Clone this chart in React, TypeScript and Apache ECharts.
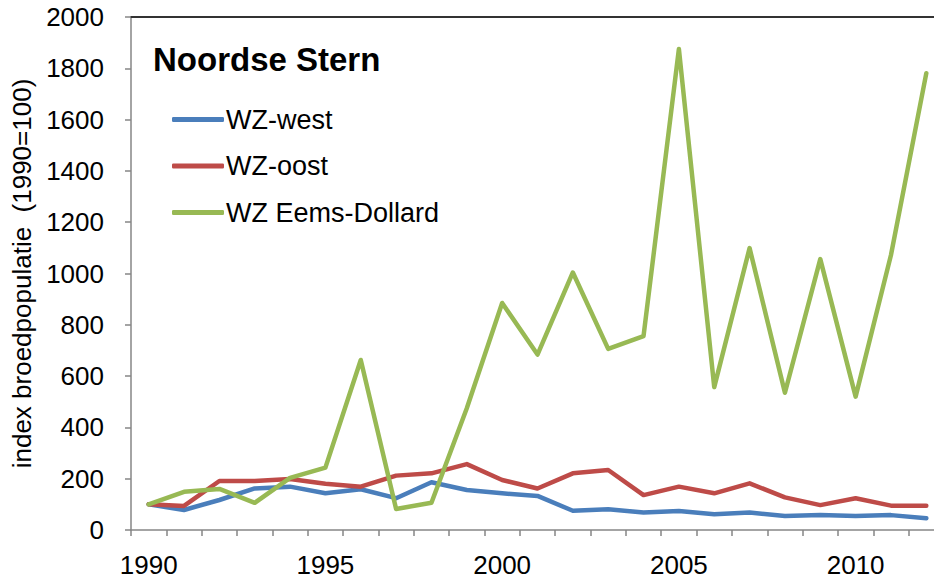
import React, { useEffect, useRef } from "react";
import * as echarts from "echarts";

const years: string[] = [
  "1990", "1991", "1992", "1993", "1994", "1995", "1996", "1997", "1998", "1999", "2000", "2001",
  "2002", "2003", "2004", "2005", "2006", "2007", "2008", "2009", "2010", "2011", "2012",
];

const wzWest: number[] = [100, 78, 117, 162, 169, 143, 159, 124, 186, 156, 143, 133, 75, 81, 68, 74, 61, 68, 55, 58, 55, 58, 46];
const wzOost: number[] = [100, 94, 191, 191, 199, 180, 169, 212, 221, 257, 195, 162, 221, 234, 136, 169, 143, 182, 127, 97, 124, 95, 95];
const wzEems: number[] = [100, 149, 160, 106, 203, 243, 663, 82, 106, 475, 885, 684, 1004, 706, 756, 1875, 557, 1099, 535, 1056, 520, 1072, 1781];

const seriesNames: string[] = ["WZ-west", "WZ-oost", "WZ Eems-Dollard"];
const colors: string[] = ["#4A7EBB", "#BE4B48", "#98B954"];

const chartTitle = "Noordse Stern";
const yAxisName = "index broedpopulatie  (1990=100)";

const FONT = "'Liberation Sans', Arial, sans-serif";

export default function App() {
  const ref = useRef<HTMLDivElement>(null);

  useEffect(() => {
    if (!ref.current) return;
    const chart = echarts.init(ref.current, null, { renderer: "svg" });
    const dataSets = [wzWest, wzOost, wzEems];
    chart.setOption({
      animation: false,
      backgroundColor: "#ffffff",
      textStyle: { fontFamily: FONT },
      title: {
        text: chartTitle,
        left: 153,
        top: 43,
        padding: 0,
        textStyle: { fontFamily: FONT, fontSize: 33, fontWeight: "bold", color: "#000000" },
      },
      legend: {
        orient: "vertical",
        left: 172,
        top: 106,
        padding: 0,
        itemGap: 19.5,
        itemWidth: 52,
        itemHeight: 5,
        icon: "roundRect",
        data: seriesNames,
        textStyle: { fontFamily: FONT, fontSize: 27, color: "#000000", padding: [0, 0, 0, -3] },
      },
      grid: {
        left: 131,
        top: 17,
        height: 513,
        width: 813,
        containLabel: false,
        outerBoundsMode: "none",
      },
      xAxis: [
        {
          type: "category",
          data: years,
          boundaryGap: true,
          axisLine: { lineStyle: { color: "#868686", width: 1.5 } },
          axisTick: { show: true, interval: 0, length: 6, lineStyle: { color: "#868686", width: 1.5 } },
          axisLabel: { interval: 4, margin: 22, fontSize: 26, color: "#000000", fontFamily: FONT },
          splitLine: { show: false },
        },
        {
          type: "category",
          data: years,
          position: "top",
          boundaryGap: true,
          axisLine: { lineStyle: { color: "#333333", width: 2 } },
          axisTick: { show: false },
          axisLabel: { show: false },
          splitLine: { show: false },
        },
      ],
      yAxis: {
        type: "value",
        min: 0,
        max: 2000,
        interval: 200,
        name: yAxisName,
        nameLocation: "middle",
        nameRotate: 90,
        nameGap: 90,
        nameTextStyle: { fontSize: 26, color: "#000000", fontFamily: FONT },
        axisLine: { show: true, lineStyle: { color: "#868686", width: 1.5 } },
        axisTick: { show: true, length: 6, lineStyle: { color: "#868686", width: 1.5 } },
        axisLabel: {
          margin: 27,
          fontSize: 26,
          color: "#000000",
          fontFamily: FONT,
          formatter: (v: number) => String(v),
        },
        splitLine: { show: false },
      },
      series: seriesNames.map((name, i) => ({
        name,
        type: "line",
        data: dataSets[i],
        symbol: "none",
        smooth: false,
        itemStyle: { color: colors[i] },
        lineStyle: { color: colors[i], width: 4.5, join: "round", cap: "round" },
        z: 2 + i,
      })),
    });
    return () => chart.dispose();
  }, []);

  return (
    <div
      ref={ref}
      style={{ position: "fixed", left: 0, top: 0, width: 934, height: 582, background: "#ffffff" }}
    />
  );
}
